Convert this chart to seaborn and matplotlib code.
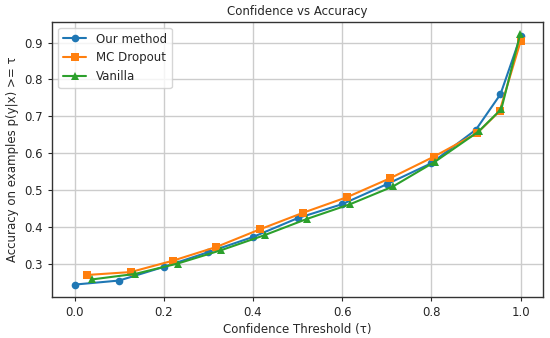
import numpy as np
import pandas as pd
import matplotlib
matplotlib.use("Agg")
import matplotlib.pyplot as plt
import seaborn as sns

# values
ours_x = [0.0, 0.1, 0.2, 0.3, 0.4, 0.5, 0.6, 0.7, 0.8, 0.9, 0.955, 1.0]
ours_y = [0.244, 0.255, 0.292, 0.332, 0.373, 0.424, 0.462, 0.516, 0.573, 0.664, 0.760, 0.917]

mc_x = [0.027, 0.126, 0.221, 0.318, 0.416, 0.513, 0.611, 0.707, 0.806, 0.903, 0.953, 1.0]
mc_y = [0.270, 0.278, 0.309, 0.346, 0.394, 0.439, 0.481, 0.532, 0.591, 0.655, 0.714, 0.903]

van_x = [0.039, 0.136, 0.231, 0.328, 0.426, 0.521, 0.618, 0.714, 0.808, 0.906, 0.957, 0.999]
van_y = [0.258, 0.273, 0.301, 0.337, 0.378, 0.422, 0.462, 0.510, 0.577, 0.659, 0.720, 0.922]

sns.set_style("white")
fs = 8.5

fig, ax = plt.subplots(figsize=(5.5, 3.38), dpi=100)

sns.lineplot(x=ours_x, y=ours_y, ax=ax, marker="o", color="#1f77b4",
             label="Our method", markersize=5.5, markeredgewidth=0, linewidth=1.5)
sns.lineplot(x=mc_x, y=mc_y, ax=ax, marker="s", color="#ff7f0e",
             label="MC Dropout", markersize=5.5, markeredgewidth=0, linewidth=1.5)
sns.lineplot(x=van_x, y=van_y, ax=ax, marker="^", color="#2ca02c",
             label="Vanilla", markersize=6, markeredgewidth=0, linewidth=1.5)

ax.set_title("Confidence vs Accuracy", fontsize=fs, pad=5)
ax.set_xlabel("Confidence Threshold (τ)", fontsize=fs, labelpad=3)
ax.set_ylabel("Accuracy on examples p(y|x) >= τ", fontsize=fs, labelpad=4)
ax.set_xticks([0.0, 0.2, 0.4, 0.6, 0.8, 1.0])
ax.set_yticks([0.3, 0.4, 0.5, 0.6, 0.7, 0.8, 0.9])
ax.tick_params(labelsize=fs, length=3, left=True, bottom=True)
ax.grid(True, color="#cccccc", linewidth=1)
for s in ax.spines.values():
    s.set_color("#333333")
    s.set_linewidth(1)
ax.legend(loc="upper left", fontsize=fs)

fig.subplots_adjust(left=0.095, right=0.987, top=0.935, bottom=0.121)
plt.savefig("out.png", dpi=100)
